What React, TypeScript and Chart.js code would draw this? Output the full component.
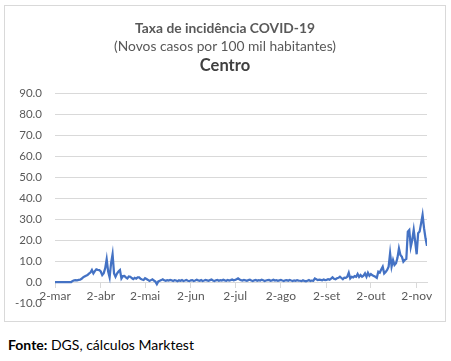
import React, { useEffect, useRef } from "react";
import { Chart, registerables } from "chart.js";

Chart.register(...registerables);

// Daily incidence (new cases per 100k inhabitants), Centro region, from 2-mar
const marValues = [0, 0, 0, 0, 0, 0, 0, 0, 0, 0, 0, 0, 0.5, 0.8, 0.9, 0.8, 1.0, 1.1, 1.5, 2.2, 2.6, 3.0, 3.3, 4.0, 4.5, 5.7, 4.1, 5.2, 6.0, 5.8];
const abrValues = [5.7, 5.0, 3.3, 4.2, 6.5, 10.8, 5.0, 2.2, 9.0, 13.2, 4.1, 2.5, 4.0, 5.0, 5.7, 1.7, 2.8, 2.9, 2.2, 1.7, 2.6, 2.5, 1.9, 1.4, 2.0, 1.6, 2.2, 2.2, 1.5, 1.2];
const maiValues = [1.0, 1.8, 1.4, 1.0, 0.5, 0.9, 1.3, 0.7, 0.2, -1.0, 0.3, 0.6, 0.9, 1.3, 0.8, 0.6, 0.9, 0.7, 1.0, 0.8, 0.5, 0.9, 0.7, 0.4, 0.8, 0.6, 0.9, 0.5, 0.7, 1.0, 0.6];
const junValues = [0.4, 0.8, 0.9, 0.5, 0.7, 1.1, 0.8, 0.6, 0.9, 0.5, 0.7, 1.0, 0.8, 0.6, 0.9, 1.2, 0.7, 0.5, 0.8, 1.0, 0.6, 0.9, 0.7, 1.1, 0.8, 0.6, 1.0, 0.7, 0.9, 1.2];
const julValues = [0.8, 1.0, 1.3, 1.7, 1.2, 0.9, 0.7, 1.0, 0.8, 0.6, 0.9, 1.1, 0.7, 0.5, 0.8, 1.0, 0.6, 0.9, 0.7, 1.1, 0.8, 0.5, 0.7, 0.9, 1.0, 0.6, 0.8, 1.1, 0.7, 0.9, 0.6];
const agoValues = [0.8, 1.0, 0.7, 0.5, 0.8, 0.9, 0.6, 1.0, 0.7, 0.5, 0.8, 0.6, 0.9, 0.7, 0.6, 0.4, 0.8, 0.5, 0.3, 0.6, 0.9, 0.5, 0.7, 0.6, 1.7, 1.3, 0.9, 1.1, 1.0, 0.8, 1.2];
const setValues = [0.9, 1.0, 1.3, 1.1, 1.6, 2.2, 1.5, 1.3, 1.8, 2.0, 2.5, 1.9, 1.3, 2.1, 2.0, 2.5, 4.4, 1.7, 2.5, 2.2, 2.8, 2.5, 3.8, 2.4, 3.3, 2.5, 3.0, 4.1, 2.5, 4.4];
const outValues = [3.0, 3.8, 3.2, 2.9, 2.5, 2.0, 4.9, 4.5, 6.0, 7.3, 4.1, 4.8, 5.7, 7.3, 13.7, 7.3, 10.5, 8.1, 8.9, 11.5, 16.0, 12.9, 12.0, 9.7, 10.5, 11.0, 24.0, 24.8, 16.8, 20.0, 24.8];
const novValues = [19.2, 13.2, 23.2, 24.0, 27.9, 31.9, 25.6, 20.8, 17.2];

const incidence = [
  ...marValues, ...abrValues, ...maiValues, ...junValues, ...julValues,
  ...agoValues, ...setValues, ...outValues, ...novValues,
];

// Tick positions (days since 2-mar) and their labels
const tickDays = [0, 31, 61, 92, 122, 153, 184, 214, 245];
const tickLabels = ["2-mar", "2-abr", "2-mai", "2-jun", "2-jul", "2-ago", "2-set", "2-out", "2-nov"];

const titleLine1 = "Taxa de incidência COVID-19";
const titleLine2 = "(Novos casos por 100 mil habitantes)";
const titleLine3 = "Centro";

const FONT = "Lato, 'Open Sans', sans-serif";
const GRID = "#d9d9d9";
const TEXT = "#595959";

export default function App() {
  const ref = useRef<HTMLCanvasElement>(null);

  useEffect(() => {
    if (!ref.current) return;
    const points = incidence.map((v, i) => ({ x: i, y: v }));
    const chart = new Chart(ref.current, {
      type: "line",
      data: {
        datasets: [
          {
            data: points,
            borderColor: "#4472C4",
            borderWidth: 2.25,
            pointRadius: 0,
            tension: 0,
            fill: false,
          },
        ],
      },
      options: {
        animation: false,
        responsive: false,
        maintainAspectRatio: false,
        layout: { padding: { left: 0, right: 24, top: 93, bottom: 27 } },
        plugins: { legend: { display: false }, tooltip: { enabled: false }, title: { display: false } },
        scales: {
          x: {
            type: "linear",
            min: 0,
            max: incidence.length - 1,
            position: { y: 0 } as any,
            afterBuildTicks: (scale: any) => {
              scale.ticks = tickDays.map((v) => ({ value: v }));
            },
            ticks: {
              autoSkip: false,
              maxRotation: 0,
              minRotation: 0,
              color: TEXT,
              font: { family: FONT, size: 12 },
              padding: 2,
              callback: (_v: any, i: number) => tickLabels[i],
            },
            grid: { drawOnChartArea: false, drawTicks: true, tickLength: 5, color: GRID },
            border: { display: true, color: GRID, width: 1 },
          },
          y: {
            min: -10,
            max: 90,
            afterFit: (scale: any) => {
              scale.width = 55;
            },
            ticks: {
              stepSize: 10,
              color: TEXT,
              font: { family: FONT, size: 11.5 },
              padding: 13,
              callback: (v: any) => Number(v).toFixed(1),
            },
            grid: {
              drawTicks: false,
              color: (ctx: any) => (ctx.tick && ctx.tick.value === -10 ? "rgba(0,0,0,0)" : GRID),
            },
            border: { display: false },
          },
        },
      },
    });
    return () => chart.destroy();
  }, []);

  return (
    <div style={{ position: "absolute", left: 0, top: 0, width: 451, height: 361, background: "#fff", overflow: "hidden" }}>
      <div
        style={{
          position: "absolute",
          left: 4,
          top: 5,
          width: 442,
          height: 317,
          border: `1px solid ${GRID}`,
          boxSizing: "border-box",
        }}
      />
      <canvas ref={ref} width={451} height={330} style={{ position: "absolute", left: 0, top: 0 }} />
      <div style={{ position: "absolute", left: 4, width: 442, top: 20, textAlign: "center", fontFamily: FONT, color: TEXT }}>
        <div style={{ fontSize: 13.8, fontWeight: 700, lineHeight: "16px", height: 18 }}>{titleLine1}</div>
        <div style={{ fontSize: 13.8, lineHeight: "16px", height: 17 }}>{titleLine2}</div>
        <div style={{ fontSize: 16.5, fontWeight: 700, lineHeight: "20px", color: "#404040" }}>{titleLine3}</div>
      </div>
      <div style={{ position: "absolute", left: 8, top: 337, fontFamily: FONT, fontSize: 14, lineHeight: "16px", color: "#000" }}>
        <b>Fonte:</b> DGS, cálculos Marktest
      </div>
    </div>
  );
}
